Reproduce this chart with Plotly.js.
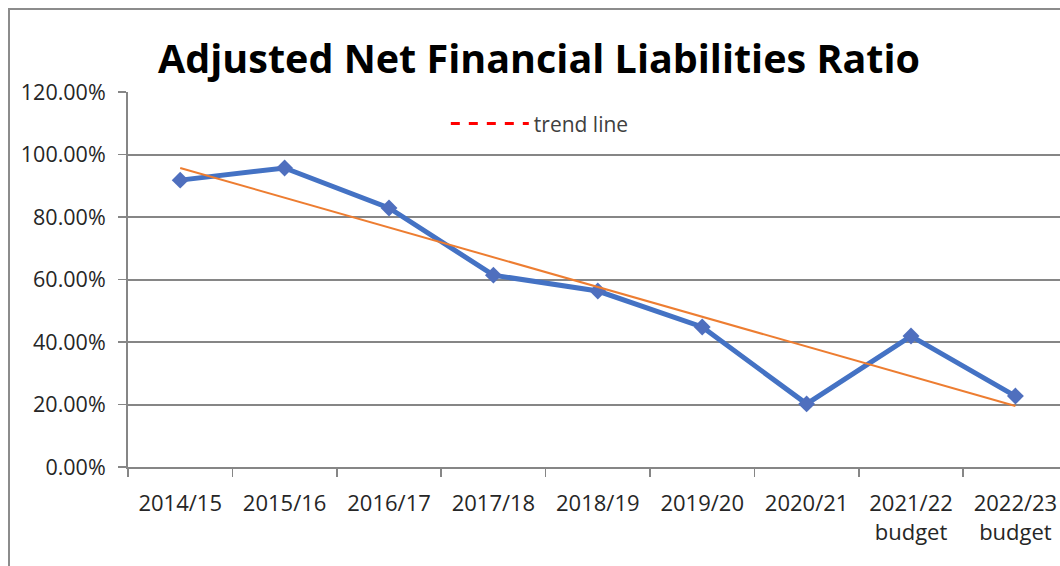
<!DOCTYPE html>
<html>
<head>
<meta charset="utf-8">
<script src="https://cdn.plot.ly/plotly-3.0.1.min.js"></script>
<style>
html,body{margin:0;padding:0;overflow:hidden;background:#fff;}
#chart{position:absolute;left:0;top:0;width:1060px;height:566px;}
#frame{position:absolute;left:8px;top:8px;width:1200px;height:700px;border-left:2px solid #8c8c8c;border-top:2px solid #8c8c8c;pointer-events:none;}
</style>
</head>
<body>
<div id="chart"></div>
<div id="frame"></div>
<script>
const categories = ["2014/15","2015/16","2016/17","2017/18","2018/19","2019/20","2020/21","2021/22<br>budget","2022/23<br>budget"];
const ratioValues = [0.918,0.957,0.829,0.614,0.563,0.448,0.202,0.419,0.227];
const trendCategories = ["2014/15","2022/23<br>budget"];
const trendValues = [0.957,0.195];
const legendLabel = "trend line";
const yTickValues = [0,0.2,0.4,0.6,0.8,1.0,1.2];

const traces = [
  {
    x: categories, y: ratioValues, type: "scatter", mode: "lines+markers",
    line: {color: "#4472C4", width: 5},
    marker: {symbol: "diamond", size: 13, color: "#4F6FBE"},
    showlegend: false, hoverinfo: "x+y"
  },
  {
    x: trendCategories, y: trendValues, type: "scatter", mode: "lines",
    line: {color: "#ED7D31", width: 2},
    showlegend: false
  },
  {
    x: [categories[0]], y: [null], type: "scatter", mode: "lines",
    name: legendLabel,
    line: {color: "#FF0000", width: 3, dash: "dash"},
    showlegend: true
  }
];

const layout = {
  width: 1060, height: 566,
  margin: {l: 128, r: 0, t: 92, b: 99},
  paper_bgcolor: "#ffffff", plot_bgcolor: "#ffffff",
  font: {family: "Open Sans, sans-serif", color: "#262626", size: 21},
  title: {
    text: "<b>Adjusted Net Financial Liabilities Ratio</b>",
    font: {family: "Open Sans, sans-serif", size: 39.5, color: "#000000"},
    x: 0.441, xanchor: "center", y: 0.895, yanchor: "middle", xref: "paper"
  },
  xaxis: {
    type: "category",
    categoryorder: "array", categoryarray: categories,
    range: [-0.5, 8.427],
    tickson: "boundaries",
    ticks: "outside", ticklen: 8, tickcolor: "#868686", tickwidth: 1.5,
    showgrid: false,
    showline: true, linecolor: "#868686", linewidth: 2,
    tickfont: {size: 22, color: "#262626"},
    ticklabelstandoff: 16,
    fixedrange: true
  },
  yaxis: {
    range: [0, 1.2],
    tickvals: yTickValues,
    tickformat: ".2%",
    ticks: "outside", ticklen: 8, tickcolor: "#868686", tickwidth: 1.5,
    showgrid: true, gridcolor: "#868686", gridwidth: 2,
    showline: true, linecolor: "#868686", linewidth: 2,
    zeroline: false,
    tickfont: {size: 21.5, color: "#262626"},
    ticklabelstandoff: 8,
    fixedrange: true
  },
  legend: {
    x: 0.341, y: 0.915, xanchor: "left", yanchor: "middle",
    bgcolor: "rgba(0,0,0,0)",
    font: {size: 21, color: "#404040"},
    itemwidth: 78
  },
  showlegend: true
};

Plotly.newPlot("chart", traces, layout, {displayModeBar: false, staticPlot: true});
</script>
</body>
</html>
